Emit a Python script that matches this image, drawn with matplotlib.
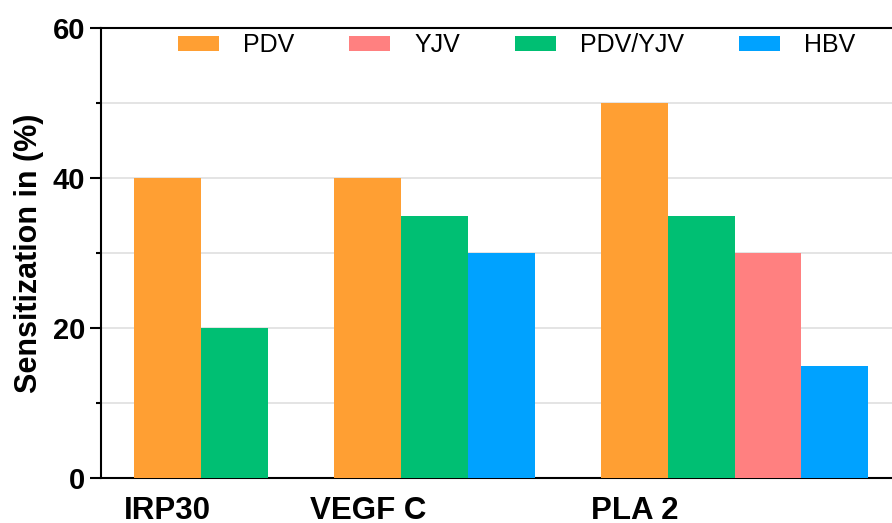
import numpy as np
import matplotlib
matplotlib.use("Agg")
import matplotlib.pyplot as plt
from matplotlib.ticker import MultipleLocator

plt.rcParams['font.family'] = ['Liberation Sans', 'DejaVu Sans']

# data, bars listed in drawing order inside each group
groups = ['IRP30', 'VEGF C', 'PLA 2']
group_series = [
    ['PDV', 'PDV/YJV'],
    ['PDV', 'PDV/YJV', 'HBV'],
    ['PDV', 'PDV/YJV', 'YJV', 'HBV'],
]
group_values = [
    [40, 20],
    [40, 35, 30],
    [50, 35, 30, 15],
]
legend_order = ['PDV', 'YJV', 'PDV/YJV', 'HBV']
colors = {'PDV': '#FF9F33', 'YJV': '#FF8080', 'PDV/YJV': '#00BF73', 'HBV': '#00A2FF'}

fig = plt.figure(figsize=(8.92, 5.23), dpi=100)
ax = fig.add_axes([0.1132, 0.0860, 0.8868, 0.8604])

handles = {}
starts = []
pos = 0
for names, vals in zip(group_series, group_values):
    starts.append(pos)
    x = pos + np.arange(len(vals))
    for xi, n, v in zip(x, names, vals):
        b = ax.bar(xi, v, width=1.0, color=colors[n], zorder=3, label=n)
        handles[n] = b
    pos += len(vals) + 1

ax.set_xlim(-1.0, 10.86)
ax.set_ylim(0, 60)
ax.set_xticks(starts)
ax.set_xticklabels(groups, fontsize=22.5, fontweight='bold')
ax.tick_params(axis='x', length=0, pad=13)

ax.yaxis.set_major_locator(MultipleLocator(20))
ax.yaxis.set_minor_locator(MultipleLocator(10))
ax.tick_params(axis='y', which='major', length=8, width=1.5, pad=3.5, labelsize=21)
ax.tick_params(axis='y', which='minor', length=3.6, width=1.5)
for lab in ax.get_yticklabels():
    lab.set_fontweight('bold')

ax.yaxis.grid(True, which='both', color='#dcdcdc', lw=1.1, zorder=0)
ax.set_axisbelow(True)

for s in ['left', 'top', 'bottom']:
    ax.spines[s].set_linewidth(1.5)
ax.spines['right'].set_visible(False)

ax.set_ylabel('Sensitization in (%)', fontsize=22, fontweight='bold')
ax.yaxis.set_label_coords(-0.072, 0.5)

ax.legend([handles[n] for n in legend_order], legend_order, loc='upper left',
          bbox_to_anchor=(0.0973, 0.989), ncol=4, frameon=False, fontsize=18,
          borderpad=0, borderaxespad=0, handlelength=1.64, handleheight=0.56,
          handletextpad=0.96, columnspacing=2.2)

fig.savefig('out.png', dpi=100)
